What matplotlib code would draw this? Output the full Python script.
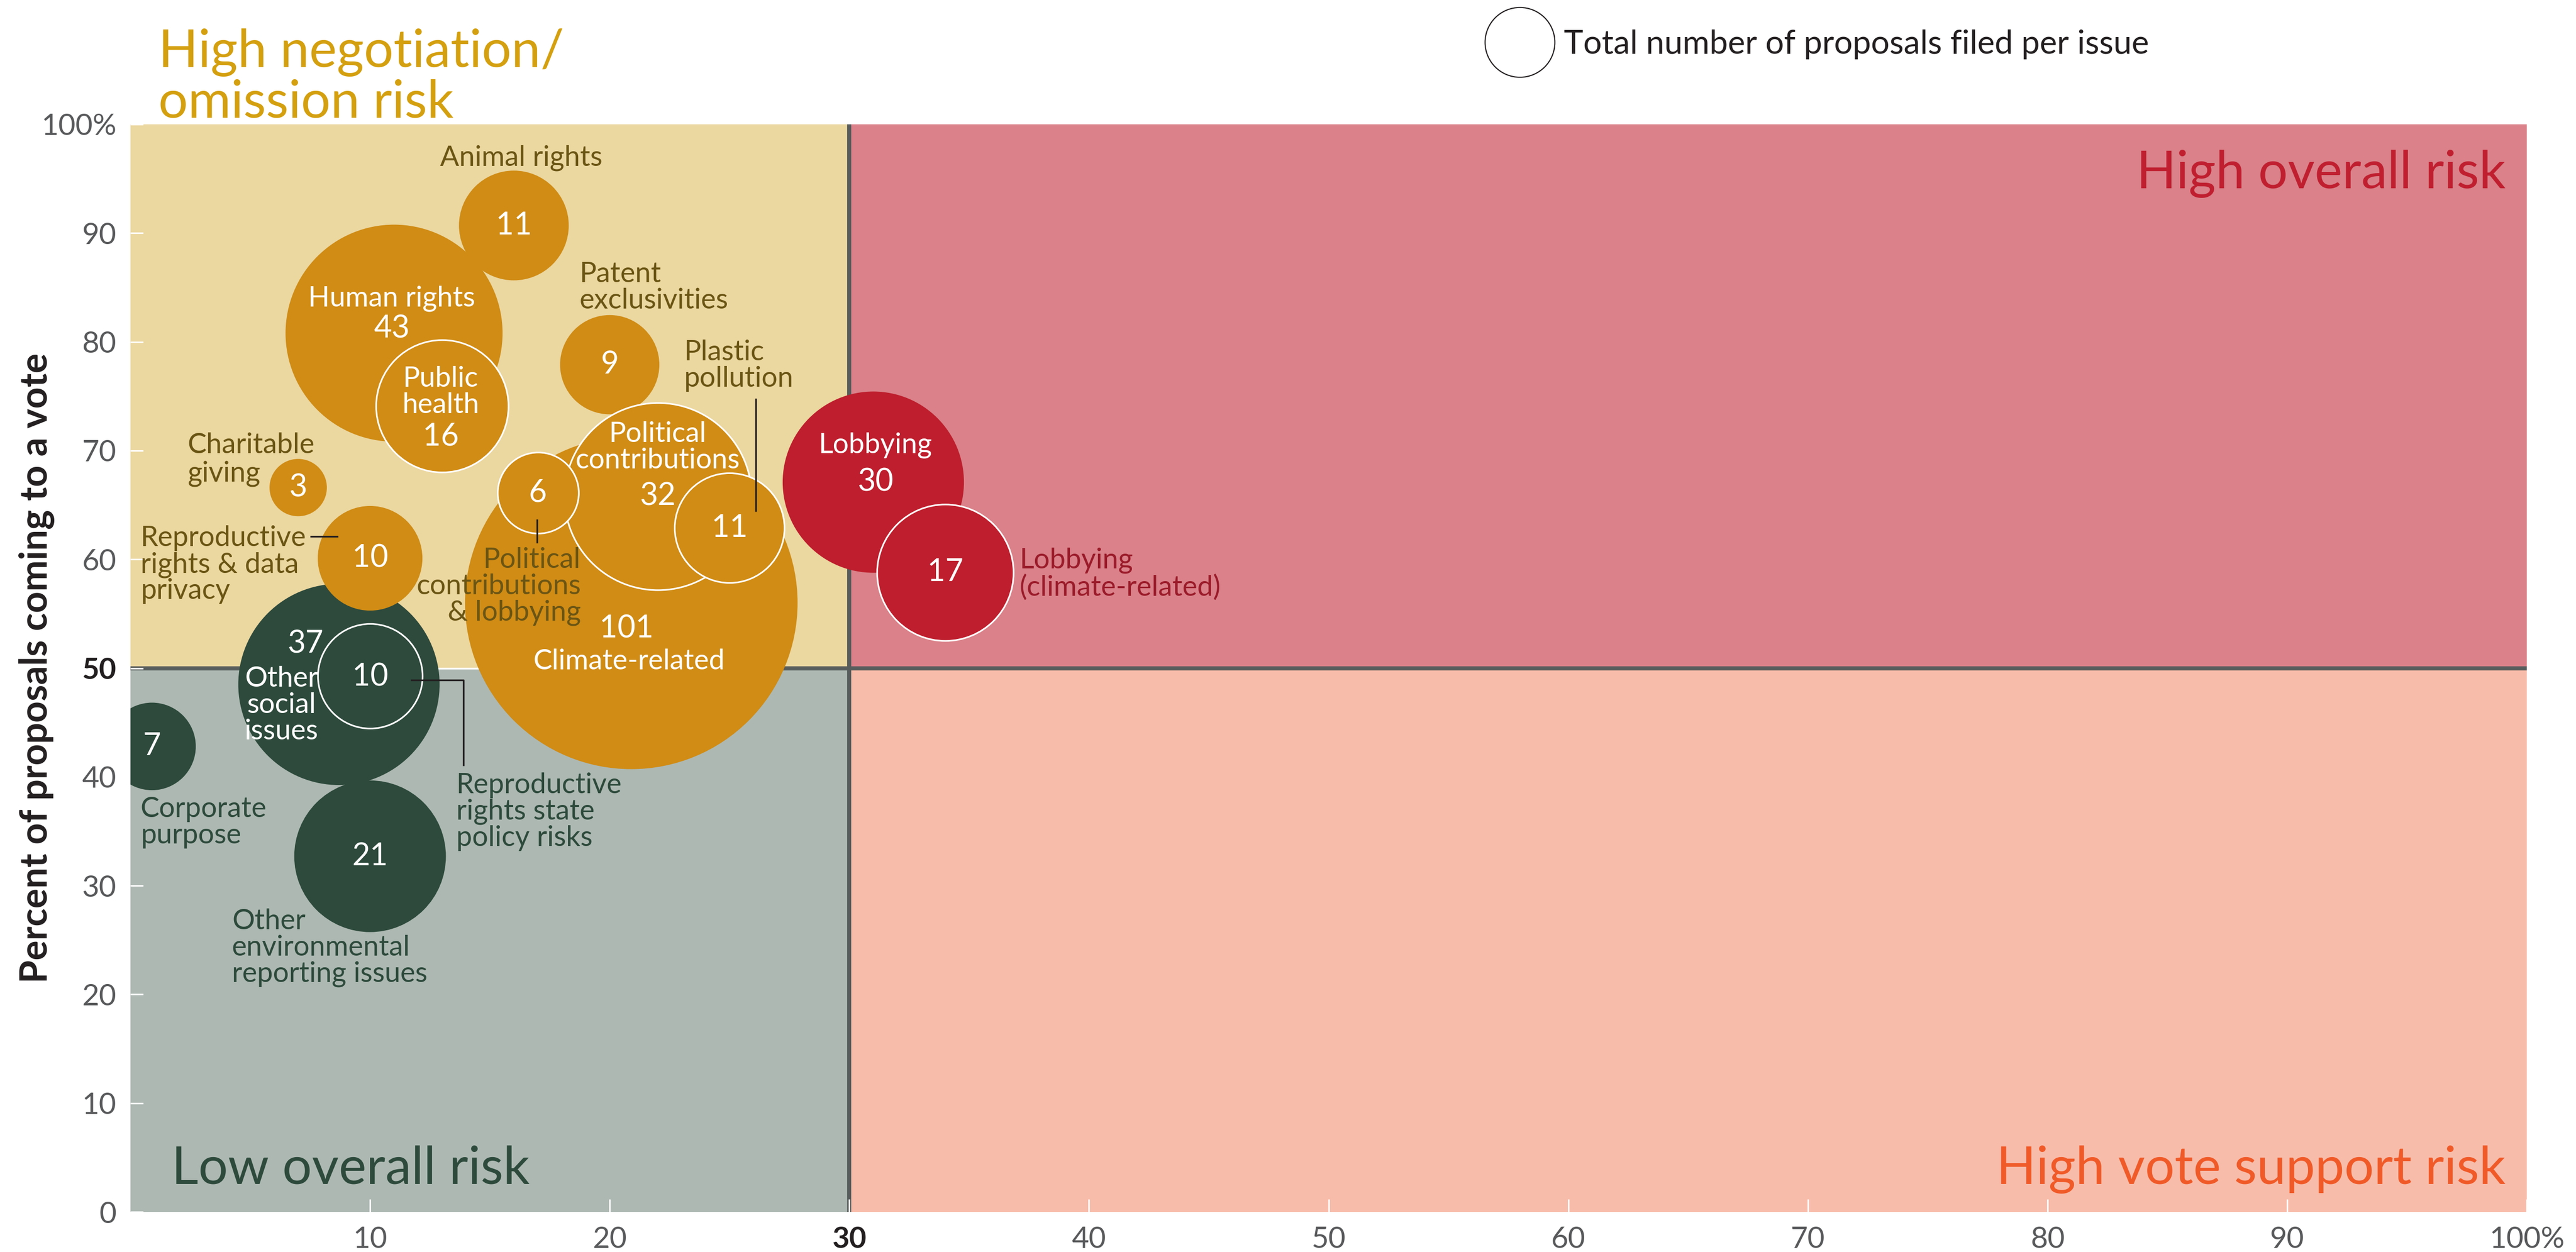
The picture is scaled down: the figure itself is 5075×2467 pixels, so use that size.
import matplotlib
matplotlib.use("Agg")
import matplotlib.pyplot as plt
from matplotlib.patches import Rectangle
from matplotlib.lines import Line2D

plt.rcParams['font.family'] = ['Lato', 'DejaVu Sans']

# ---------------- data ----------------
issue_names = ["Climate-related", "Human rights", "Animal rights", "Patent exclusivities",
               "Charitable giving", "Other social issues", "Reproductive rights & data privacy",
               "Corporate purpose", "Other environmental reporting issues",
               "Reproductive rights state policy risks", "Public health",
               "Political contributions", "Political contributions & lobbying",
               "Plastic pollution", "Lobbying", "Lobbying (climate-related)"]
x_vals = [20.9, 11.0, 16.0, 20.0, 7.0, 8.7, 10.0, 0.9, 10.0, 10.0, 13.0, 22.0, 17.0, 25.0, 31.0, 34.0]
y_vals = [56.0, 80.8, 90.7, 77.9, 66.6, 48.5, 60.1, 42.8, 32.7, 49.3, 74.1, 65.8, 66.1, 62.9, 67.1, 58.8]
counts = [101, 43, 11, 9, 3, 37, 10, 7, 21, 10, 16, 32, 6, 11, 30, 17]
groups = ["neg", "neg", "neg", "neg", "neg", "low", "neg", "low", "low", "low", "neg",
          "neg", "neg", "neg", "high", "high"]
outlined = [False, False, False, False, False, False, False, False, False, True, True,
            True, True, True, False, True]

x_ticks = [10, 20, 30, 40, 50, 60, 70, 80, 90, 100]
x_tick_labels = ["10", "20", "30", "40", "50", "60", "70", "80", "90", "100%"]
y_ticks = [0, 10, 20, 30, 40, 50, 60, 70, 80, 90, 100]
y_tick_labels = ["0", "10", "20", "30", "40", "50", "60", "70", "80", "90", "100%"]
x_split, y_split = 30, 50

# text inside bubbles (white): text, x, y
inner_texts = [
    ("Human rights", 10.9, 84.0), ("43", 10.9, 81.2),
    ("Public\nhealth", 12.95, 75.4), ("16", 12.95, 71.3),
    ("11", 16.0, 90.7), ("9", 20.0, 77.9), ("3", 7.0, 66.6), ("10", 10.0, 60.1),
    ("6", 17.0, 66.1),
    ("Political\ncontributions", 22.0, 70.3), ("32", 22.0, 65.8),
    ("11", 25.0, 62.9),
    ("101", 20.7, 53.6), ("Climate-related", 20.8, 50.6),
    ("Lobbying", 31.1, 70.5), ("30", 31.1, 67.1),
    ("17", 34.0, 58.8),
    ("37", 7.3, 52.2), ("Other\nsocial\nissues", 6.3, 46.6), ("10", 10.0, 49.2),
    ("7", 0.9, 42.8), ("21", 10.0, 32.7),
]
inner_is_number = [False, True, False, True, True, True, True, True, True, False, True,
                   True, True, False, False, True, True, True, False, True, True, True]

# outside labels: text, x, y, ha, group
outer_labels = [
    ("Animal rights", 16.3, 96.9, "center", "neg"),
    ("Patent\nexclusivities", 18.75, 85.0, "left", "neg"),
    ("Plastic\npollution", 23.1, 77.8, "left", "neg"),
    ("Charitable", 2.37, 70.5, "left", "neg"),
    ("giving", 2.37, 67.9, "left", "neg"),
    ("Reproductive\nrights & data\nprivacy", 0.42, 59.5, "left", "neg"),
    ("Political\ncontributions\n& lobbying", 18.8, 57.5, "right", "neg"),
    ("Lobbying\n(climate-related)", 37.1, 58.65, "left", "high"),
    ("Reproductive\nrights state\npolicy risks", 13.6, 36.8, "left", "low"),
    ("Corporate\npurpose", 0.42, 35.8, "left", "low"),
    ("Other\nenvironmental\nreporting issues", 4.24, 24.3, "left", "low"),
]

# leader lines (x list, y list)
leaders = [
    ([26.1, 26.1], [74.8, 64.4]),
    ([7.5, 8.67], [62.1, 62.1]),
    ([16.97, 16.97], [63.7, 61.5]),
    ([11.7, 13.9, 13.9], [48.9, 48.9, 41.0]),
]

# ---------------- style ----------------
bubble_color = {"neg": "#D08C15", "low": "#2D4A3C", "high": "#BE1E2D"}
label_color = {"neg": "#6B5514", "low": "#2D4A3C", "high": "#9B1B2A"}
quad_colors = {"tl": "#EBD7A0", "tr": "#DA8189", "bl": "#ADB8B2", "br": "#F8BCAA"}
divider_color = "#575C5C"
LABEL_FS, NUM_FS, TITLE_FS = 40, 44, 74

FIG_W, FIG_H, DPI = 5075, 2467, 100
fig = plt.figure(figsize=(FIG_W / DPI, FIG_H / DPI), dpi=DPI)
ax = fig.add_axes([257 / FIG_W, 1 - 2388 / FIG_H, (4978 - 257) / FIG_W, (2388 - 245) / FIG_H])
ax.set_xlim(0, 100)
ax.set_ylim(0, 100)

# quadrants
ax.add_patch(Rectangle((0, y_split), x_split, 100 - y_split, facecolor=quad_colors["tl"], edgecolor="none", zorder=0))
ax.add_patch(Rectangle((x_split, y_split), 100 - x_split, 100 - y_split, facecolor=quad_colors["tr"], edgecolor="none", zorder=0))
ax.add_patch(Rectangle((0, 0), x_split, y_split, facecolor=quad_colors["bl"], edgecolor="none", zorder=0))
ax.add_patch(Rectangle((x_split, 0), 100 - x_split, y_split, facecolor=quad_colors["br"], edgecolor="none", zorder=0))
ax.axhline(y_split, xmin=0, xmax=0.3, color="white", lw=2.5, zorder=1)
ax.axhline(y_split, xmin=0, xmax=0.09, color=divider_color, lw=5.8, zorder=1.2, solid_capstyle="butt")
ax.axhline(y_split, xmin=0.2, xmax=1, color=divider_color, lw=5.8, zorder=1.2, solid_capstyle="butt")
ax.axvline(x_split, color=divider_color, lw=5.8, zorder=1.3, solid_capstyle="butt")

# bubbles
px_per_sqrt = 32.6  # radius in pixels per sqrt(count)
for i, (x, y, n, g, o) in enumerate(zip(x_vals, y_vals, counts, groups, outlined)):
    diam_pt = 2 * px_per_sqrt * (n ** 0.5) * 72 / DPI
    ax.scatter([x], [y], s=diam_pt ** 2, color=bubble_color[g],
               edgecolors="white" if o else "none", linewidths=2.3 if o else 0,
               zorder=3 + i)

z_text = 40
for (t, x, y), isnum in zip(inner_texts, inner_is_number):
    ax.text(x, y, t, color="white", fontsize=NUM_FS if isnum else LABEL_FS, ha="center",
            va="center", linespacing=1.02, zorder=z_text)

for t, x, y, ha, g in outer_labels:
    ax.text(x, y, t, color=label_color[g], fontsize=LABEL_FS, ha=ha, va="center",
            linespacing=1.02, multialignment=ha, zorder=z_text)

for lx, ly in leaders:
    ax.plot(lx, ly, color="#231F20", lw=2.4, zorder=z_text - 1, solid_capstyle="butt")

# quadrant titles (baseline-aligned)
ax.text(0.0117, 1.0527, "High negotiation/", transform=ax.transAxes, color="#D4A010",
        fontsize=TITLE_FS, ha="left", va="baseline")
ax.text(0.0117, 1.0061, "omission risk", transform=ax.transAxes, color="#D4A010",
        fontsize=TITLE_FS, ha="left", va="baseline")
ax.text(0.9911, 0.9412, "High overall risk", transform=ax.transAxes, color="#C01F30",
        fontsize=TITLE_FS, ha="right", va="baseline")
ax.text(0.9911, 0.0257, "High vote support risk", transform=ax.transAxes, color="#F05A28",
        fontsize=TITLE_FS, ha="right", va="baseline")
ax.text(0.0172, 0.0261, "Low overall risk", transform=ax.transAxes, color="#2D4A3C",
        fontsize=TITLE_FS, ha="left", va="baseline")

# axes / ticks
for s in ax.spines.values():
    s.set_visible(False)
ax.set_xticks(x_ticks)
ax.set_xticklabels(x_tick_labels)
ax.set_yticks(y_ticks)
ax.set_yticklabels(y_tick_labels)
ax.tick_params(axis="both", direction="in", length=18, width=2.2, color="white",
               labelsize=42, labelcolor="#58595B")
ax.tick_params(axis="x", pad=20)
ax.tick_params(axis="y", pad=20)
for lab in ax.get_xticklabels():
    if lab.get_text() == str(x_split):
        lab.set_fontweight("bold")
        lab.set_color("#231F20")
for lab in ax.get_yticklabels():
    if lab.get_text() == str(y_split):
        lab.set_fontweight("bold")
        lab.set_color("#231F20")

ax.set_ylabel("Percent of proposals coming to a vote", fontsize=53, fontweight="bold",
              color="#231F20")
ax.yaxis.set_label_coords(-(257 - 108) / (4978 - 257), 0.5)

# legend
handle = Line2D([], [], marker="o", linestyle="none", markersize=99, markerfacecolor="white",
                markeredgecolor="#231F20", markeredgewidth=1.6)
fig.legend(handles=[handle], labels=["Total number of proposals filed per issue"],
           loc="center left", bbox_to_anchor=((2992 - 69) / FIG_W, 1 - 87.5 / FIG_H),
           frameon=False, fontsize=46.5, borderpad=0, borderaxespad=0, handlelength=2.2,
           handletextpad=0.25, labelcolor="#231F20")

fig.savefig("out.png", dpi=DPI)
